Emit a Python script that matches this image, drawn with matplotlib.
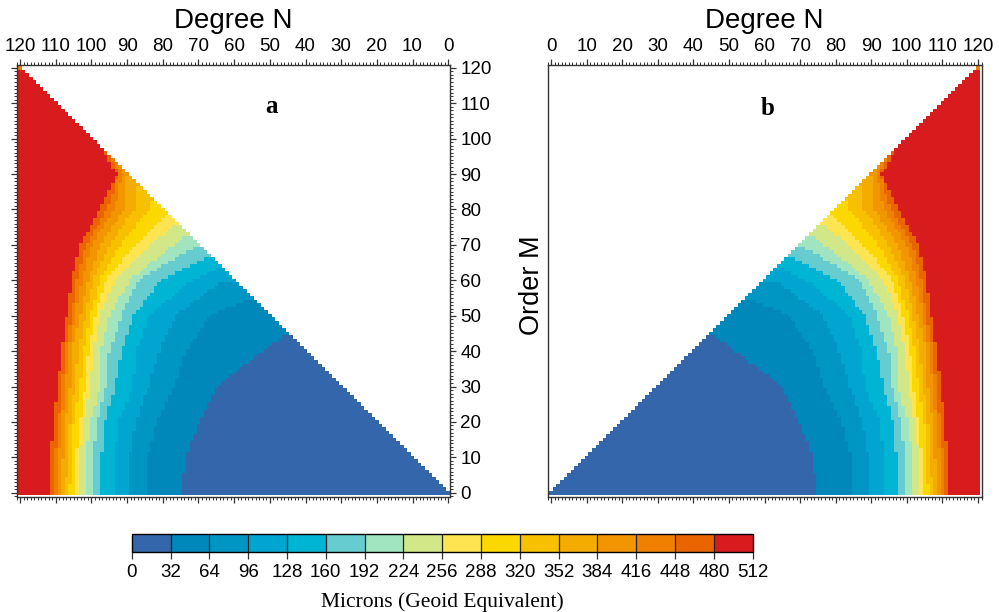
import numpy as np
import matplotlib
matplotlib.use("Agg")
import matplotlib.pyplot as plt
from matplotlib.colors import ListedColormap, BoundaryNorm
from matplotlib.ticker import MultipleLocator

plt.rcParams['font.family'] = ['Liberation Sans', 'DejaVu Sans']

# colour classes, 32 microns each
levels = np.arange(0, 513, 32)
level_colors = ['#3366aa', '#0088bb', '#0096c4', '#00a5d0', '#00b4d4', '#66ccd0',
                '#a0e4c0', '#d2e888', '#fde450', '#fad800', '#f7c000', '#f5ac00',
                '#f29600', '#f08000', '#ea6400', '#d81c1e']

# degree N where each class boundary (32, 64, ... 480) sits, read at these orders
orders = [0, 10, 20, 30, 40, 50, 60, 70, 80, 90]
nan = np.nan
edge_degree = [
    [74.3, 73.8, 69.7, 65.0, 52.0, nan, nan, nan, nan, nan],     # 32
    [84.6, 84.3, 81.5, 77.0, 73.4, 67.0, nan, nan, nan, nan],    # 64
    [90.0, 89.3, 87.5, 84.0, 80.9, 76.5, 63.0, nan, nan, nan],   # 96
    [93.4, 93.4, 92.5, 88.3, 87.4, 83.7, 72.0, nan, nan, nan],   # 128
    [97.3, 97.1, 96.2, 93.4, 91.6, 88.3, 80.5, nan, nan, nan],   # 160
    [99.3, 99.5, 98.5, 95.8, 95.0, 91.6, 87.0, nan, nan, nan],   # 192
    [101.5, 101.5, 100.4, 97.6, 97.4, 94.8, 89.3, nan, nan, nan],  # 224
    [103.4, 103.4, 102.3, 100.4, 99.5, 97.6, 93.4, 84.0, nan, nan],  # 256
    [104.1, 104.3, 103.2, 101.8, 100.9, 99.0, 95.8, 88.0, nan, nan],  # 288
    [106.2, 105.5, 105.0, 103.2, 102.3, 100.4, 97.6, 92.0, 84.0, nan],  # 320
    [107.4, 106.5, 106.0, 104.6, 103.7, 101.8, 99.5, 95.0, 88.0, nan],  # 352
    [108.3, 108.0, 107.4, 106.0, 105.5, 103.2, 100.9, 97.5, 91.0, nan],  # 384
    [109.5, 109.3, 108.3, 107.4, 106.4, 104.6, 102.7, 100.0, 93.5, 91.5],  # 416
    [110.4, 110.2, 109.3, 108.3, 107.4, 105.5, 104.1, 101.5, 95.5, 92.5],  # 448
    [111.5, 111.4, 110.5, 109.6, 108.3, 106.9, 105.5, 103.2, 97.5, 93.0],  # 480
]
# order at which each boundary meets the diagonal N = M
diag_order = [45, 55, 60, 64, 67, 70, 73, 76, 79, 83, 87, 90, 93, 95, 97]
corner_class = 13   # the single N = M = 120 cell


def build_field():
    deg = np.arange(121)
    N, M = np.meshgrid(deg, deg)
    cls = np.zeros(N.shape)
    for k, row in enumerate(edge_degree):
        pm = [o for o, v in zip(orders, row) if not np.isnan(v)] + [diag_order[k]]
        pn = [v for v in row if not np.isnan(v)] + [diag_order[k]]
        edge = np.interp(deg, pm, pn)
        edge[deg > diag_order[k]] = -1
        cls += N >= edge[:, None]
    cls[120, 120] = corner_class
    val = cls * 32 + 16
    return deg, np.ma.masked_where(N < M, val)


deg, field = build_field()

cmap = ListedColormap(level_colors)
norm = BoundaryNorm(levels, cmap.N)
spine_col = '#333333'

fig = plt.figure(figsize=(9.99, 6.12), dpi=100)
ax_a = fig.add_axes([16.5 / 999, 1 - 497 / 612, 433.5 / 999, 432 / 612])
ax_b = fig.add_axes([547.5 / 999, 1 - 497 / 612, 434 / 999, 432 / 612])
cax = fig.add_axes([131.7 / 999, 1 - 551.7 / 612, 621 / 999, 17.4 / 612])

edges = np.arange(122) - 0.5
for ax in (ax_a, ax_b):
    ax.pcolormesh(edges, edges, field, cmap=cmap, norm=norm)
    ax.set_ylim(-1.2, 120.8)
    ax.xaxis.set_major_locator(MultipleLocator(10))
    ax.xaxis.set_minor_locator(MultipleLocator(1))
    ax.yaxis.set_major_locator(MultipleLocator(10))
    ax.yaxis.set_minor_locator(MultipleLocator(1))
    ax.tick_params(axis='x', which='both', direction='out', top=True, bottom=True,
                   labeltop=True, labelbottom=False, labelsize=13.5, pad=3, color=spine_col)
    ax.tick_params(which='major', length=4.5, width=0.9)
    ax.tick_params(which='minor', length=2.2, width=0.7)
    ax.xaxis.set_label_position('top')
    ax.set_xlabel('Degree N', fontsize=20, labelpad=7)
    for s in ax.spines.values():
        s.set_color(spine_col)
        s.set_linewidth(1.0)

ax_a.set_xlim(121.0, -0.5)
ax_a.tick_params(axis='y', which='both', direction='out', left=True, right=True,
                 labelleft=False, labelright=True, labelsize=13.5, pad=3, color=spine_col)
ax_a.text(0.589, 0.903, 'a', transform=ax_a.transAxes, ha='center', va='center',
          fontsize=18, fontweight='bold', family='Liberation Serif')

ax_b.set_xlim(-1.0, 121.0)
ax_b.tick_params(axis='y', which='both', left=False, right=False,
                 labelleft=False, labelright=False)
ax_b.text(0.508, 0.900, 'b', transform=ax_b.transAxes, ha='center', va='center',
          fontsize=18, fontweight='bold', family='Liberation Serif')

fig.text(532 / 999, 1 - 285 / 612, 'Order M', rotation=90, ha='center', va='center',
         fontsize=19.5)

cb = fig.colorbar(plt.cm.ScalarMappable(norm=norm, cmap=cmap), cax=cax,
                  orientation='horizontal', drawedges=True)
cb.set_ticks(levels)
cb.ax.tick_params(labelsize=13.5, length=5, width=0.9, pad=4, color=spine_col)
cb.outline.set_linewidth(1.0)
cb.dividers.set_color('#222222')
cb.dividers.set_linewidth(0.9)
cb.set_label('Microns (Geoid Equivalent)', family='Liberation Serif', fontsize=15.5,
             labelpad=8)

fig.savefig('out.png', dpi=100)
